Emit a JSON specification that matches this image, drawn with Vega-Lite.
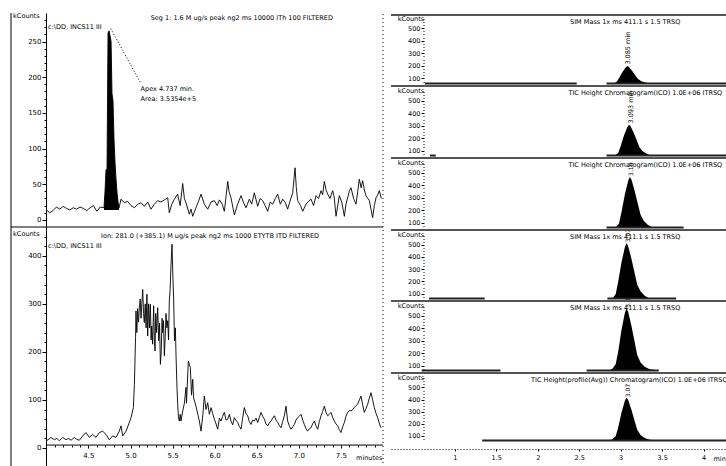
{
"$schema": "https://vega.github.io/schema/vega-lite/v6.json",
"background": "white",
"padding": {"left": 10, "top": 12, "right": 0, "bottom": 0},
"config": {
  "view": {"stroke": null},
  "axis": {"grid": false, "labelFont": "DejaVu Sans", "labelFontSize": 7, "labelColor": "#000", "domainColor": "#000", "tickColor": "#000", "labelOverlap": false, "labelFlush": false},
  "text": {"font": "DejaVu Sans", "fontSize": 6.5, "color": "#000", "fill": "#000", "align": "left", "baseline": "middle"},
  "line": {"color": "#000", "strokeWidth": 1},
  "area": {"color": "#000"},
  "rule": {"color": "#000"}
},
"datasets": {
  "tl": [
    {"t":4.00,"v":14},{"t":4.04,"v":10},{"t":4.08,"v":13},{"t":4.12,"v":18},{"t":4.16,"v":15},{"t":4.20,"v":19},{"t":4.24,"v":16},{"t":4.28,"v":14},{"t":4.32,"v":17},{"t":4.36,"v":15},{"t":4.40,"v":18},{"t":4.44,"v":16},{"t":4.48,"v":13},{"t":4.52,"v":17},{"t":4.56,"v":20},{"t":4.60,"v":12},{"t":4.64,"v":18},{"t":4.685,"v":17},
    {"t":4.697,"v":40},{"t":4.709,"v":70},{"t":4.721,"v":72},{"t":4.733,"v":262},{"t":4.745,"v":265},{"t":4.757,"v":258},{"t":4.769,"v":250},{"t":4.780,"v":177},{"t":4.792,"v":167},{"t":4.804,"v":113},{"t":4.816,"v":80},{"t":4.828,"v":57},{"t":4.840,"v":38},{"t":4.852,"v":25},{"t":4.864,"v":17},
    {"t":4.887,"v":29},{"t":4.926,"v":24},{"t":4.966,"v":26},{"t":5.006,"v":20},{"t":5.046,"v":17},{"t":5.085,"v":22},{"t":5.125,"v":24},{"t":5.165,"v":19},{"t":5.204,"v":25},{"t":5.244,"v":15},{"t":5.283,"v":22},{"t":5.323,"v":27},{"t":5.362,"v":25},{"t":5.402,"v":28},{"t":5.442,"v":31},{"t":5.461,"v":10},{"t":5.490,"v":22},{"t":5.521,"v":29},{"t":5.560,"v":36},{"t":5.590,"v":20},{"t":5.620,"v":51},{"t":5.640,"v":30},{"t":5.659,"v":24},{"t":5.699,"v":8},{"t":5.719,"v":15},{"t":5.739,"v":5},{"t":5.778,"v":17},{"t":5.808,"v":26},{"t":5.838,"v":36},{"t":5.877,"v":22},{"t":5.917,"v":15},{"t":5.956,"v":25},{"t":5.996,"v":27},{"t":6.030,"v":20},{"t":6.056,"v":28},{"t":6.090,"v":22},{"t":6.115,"v":12},{"t":6.155,"v":54},{"t":6.170,"v":40},{"t":6.194,"v":31},{"t":6.234,"v":7},{"t":6.273,"v":22},{"t":6.313,"v":34},{"t":6.340,"v":25},{"t":6.372,"v":17},{"t":6.412,"v":29},{"t":6.440,"v":22},{"t":6.471,"v":38},{"t":6.511,"v":19},{"t":6.540,"v":30},{"t":6.570,"v":27},{"t":6.600,"v":20},{"t":6.630,"v":12},{"t":6.660,"v":25},{"t":6.689,"v":22},{"t":6.720,"v":30},{"t":6.749,"v":36},{"t":6.780,"v":22},{"t":6.808,"v":29},{"t":6.840,"v":24},{"t":6.867,"v":15},{"t":6.900,"v":28},{"t":6.927,"v":38},{"t":6.955,"v":73},{"t":6.970,"v":45},{"t":6.986,"v":27},{"t":7.020,"v":20},{"t":7.046,"v":12},{"t":7.085,"v":22},{"t":7.115,"v":26},{"t":7.145,"v":29},{"t":7.175,"v":20},{"t":7.204,"v":34},{"t":7.235,"v":30},{"t":7.264,"v":41},{"t":7.283,"v":35},{"t":7.303,"v":54},{"t":7.323,"v":42},{"t":7.343,"v":36},{"t":7.370,"v":30},{"t":7.402,"v":41},{"t":7.420,"v":32},{"t":7.442,"v":5},{"t":7.462,"v":20},{"t":7.481,"v":34},{"t":7.510,"v":25},{"t":7.541,"v":5},{"t":7.560,"v":22},{"t":7.580,"v":31},{"t":7.600,"v":40},{"t":7.620,"v":45},{"t":7.650,"v":30},{"t":7.679,"v":22},{"t":7.700,"v":40},{"t":7.719,"v":57},{"t":7.740,"v":45},{"t":7.758,"v":55},{"t":7.778,"v":42},{"t":7.798,"v":34},{"t":7.838,"v":27},{"t":7.857,"v":15},{"t":7.877,"v":3},{"t":7.897,"v":20},{"t":7.917,"v":31},{"t":7.937,"v":35},{"t":7.957,"v":41},{"t":7.980,"v":30}
  ],
  "tlpeak": [
    {"t":4.685,"v":17},{"t":4.697,"v":40},{"t":4.709,"v":70},{"t":4.721,"v":72},{"t":4.733,"v":262},{"t":4.745,"v":265},{"t":4.757,"v":258},{"t":4.769,"v":250},{"t":4.780,"v":177},{"t":4.792,"v":167},{"t":4.804,"v":113},{"t":4.816,"v":80},{"t":4.828,"v":57},{"t":4.840,"v":38},{"t":4.852,"v":25},{"t":4.864,"v":17}
  ],
  "bl": [
    {"t":4.00,"v":15},{"t":4.03,"v":18},{"t":4.055,"v":22},{"t":4.095,"v":17},{"t":4.125,"v":20},{"t":4.154,"v":15},{"t":4.194,"v":22},{"t":4.234,"v":17},{"t":4.26,"v":20},{"t":4.293,"v":16},{"t":4.333,"v":22},{"t":4.36,"v":18},{"t":4.392,"v":16},{"t":4.432,"v":25},{"t":4.471,"v":32},{"t":4.511,"v":22},{"t":4.550,"v":28},{"t":4.590,"v":22},{"t":4.630,"v":32},{"t":4.669,"v":35},{"t":4.709,"v":28},{"t":4.748,"v":17},{"t":4.788,"v":25},{"t":4.828,"v":22},{"t":4.867,"v":35},{"t":4.887,"v":46},{"t":4.907,"v":25},{"t":4.947,"v":35},{"t":4.986,"v":53},{"t":5.006,"v":63},{"t":5.034,"v":84},
    {"t":5.046,"v":132},{"t":5.053,"v":181},{"t":5.060,"v":230},{"t":5.065,"v":285},{"t":5.075,"v":240},{"t":5.085,"v":290},{"t":5.095,"v":262},{"t":5.105,"v":292},{"t":5.115,"v":310},{"t":5.125,"v":270},{"t":5.135,"v":300},{"t":5.145,"v":330},{"t":5.155,"v":280},{"t":5.164,"v":261},{"t":5.175,"v":300},{"t":5.185,"v":250},{"t":5.195,"v":320},{"t":5.204,"v":233},{"t":5.215,"v":300},{"t":5.225,"v":250},{"t":5.236,"v":299},{"t":5.245,"v":225},{"t":5.252,"v":254},{"t":5.263,"v":216},{"t":5.275,"v":296},{"t":5.283,"v":230},{"t":5.291,"v":202},{"t":5.300,"v":280},{"t":5.310,"v":240},{"t":5.323,"v":292},{"t":5.335,"v":223},{"t":5.345,"v":260},{"t":5.355,"v":174},{"t":5.365,"v":200},{"t":5.375,"v":270},{"t":5.382,"v":240},{"t":5.392,"v":265},{"t":5.402,"v":192},{"t":5.412,"v":230},{"t":5.422,"v":280},{"t":5.432,"v":250},{"t":5.442,"v":265},{"t":5.452,"v":225},{"t":5.461,"v":306},{"t":5.471,"v":330},{"t":5.481,"v":380},{"t":5.493,"v":424},{"t":5.503,"v":360},{"t":5.513,"v":306},{"t":5.523,"v":223},{"t":5.533,"v":250},{"t":5.541,"v":192},{"t":5.552,"v":126},{"t":5.560,"v":93},{"t":5.570,"v":63},{"t":5.580,"v":56},{"t":5.590,"v":70},{"t":5.600,"v":56},{"t":5.620,"v":77},{"t":5.640,"v":93},{"t":5.659,"v":126},{"t":5.665,"v":93},{"t":5.687,"v":181},{"t":5.711,"v":167},{"t":5.725,"v":110},{"t":5.739,"v":143},{"t":5.750,"v":104},{"t":5.778,"v":87},{"t":5.800,"v":70},{"t":5.818,"v":56},{"t":5.838,"v":35},{"t":5.860,"v":70},
    {"t":5.877,"v":108},{"t":5.897,"v":80},{"t":5.917,"v":94},{"t":5.937,"v":70},{"t":5.957,"v":84},{"t":5.976,"v":72},{"t":5.996,"v":60},{"t":6.016,"v":50},{"t":6.036,"v":39},{"t":6.056,"v":62},{"t":6.075,"v":56},{"t":6.095,"v":66},{"t":6.115,"v":74},{"t":6.135,"v":58},{"t":6.155,"v":60},{"t":6.175,"v":70},{"t":6.194,"v":56},{"t":6.214,"v":48},{"t":6.234,"v":63},{"t":6.253,"v":58},{"t":6.273,"v":53},{"t":6.293,"v":45},{"t":6.313,"v":39},{"t":6.332,"v":62},{"t":6.352,"v":84},{"t":6.372,"v":72},{"t":6.392,"v":67},{"t":6.412,"v":55},{"t":6.432,"v":49},{"t":6.451,"v":58},{"t":6.471,"v":56},{"t":6.491,"v":62},{"t":6.511,"v":53},{"t":6.531,"v":64},{"t":6.551,"v":74},{"t":6.570,"v":66},{"t":6.590,"v":60},{"t":6.610,"v":50},{"t":6.630,"v":46},{"t":6.650,"v":52},{"t":6.669,"v":56},{"t":6.689,"v":62},{"t":6.709,"v":67},{"t":6.729,"v":58},{"t":6.749,"v":53},{"t":6.768,"v":47},{"t":6.788,"v":42},{"t":6.808,"v":55},{"t":6.828,"v":67},{"t":6.848,"v":87},{"t":6.867,"v":56},{"t":6.887,"v":46},{"t":6.907,"v":39},{"t":6.927,"v":44},{"t":6.947,"v":49},{"t":6.966,"v":58},{"t":6.986,"v":63},{"t":7.006,"v":66},{"t":7.026,"v":70},{"t":7.046,"v":58},{"t":7.065,"v":49},{"t":7.085,"v":40},{"t":7.105,"v":35},{"t":7.125,"v":40},{"t":7.145,"v":42},{"t":7.164,"v":50},{"t":7.184,"v":56},{"t":7.204,"v":46},{"t":7.224,"v":39},{"t":7.244,"v":55},{"t":7.264,"v":67},{"t":7.283,"v":76},{"t":7.303,"v":87},{"t":7.323,"v":74},{"t":7.343,"v":67},{"t":7.362,"v":70},{"t":7.382,"v":74},{"t":7.402,"v":64},{"t":7.422,"v":56},{"t":7.441,"v":50},{"t":7.461,"v":46},{"t":7.481,"v":38},{"t":7.501,"v":32},{"t":7.521,"v":44},{"t":7.541,"v":53},{"t":7.560,"v":66},{"t":7.580,"v":74},{"t":7.600,"v":78},{"t":7.620,"v":77},{"t":7.640,"v":80},{"t":7.660,"v":84},{"t":7.679,"v":88},{"t":7.699,"v":91},{"t":7.719,"v":100},{"t":7.739,"v":108},{"t":7.758,"v":90},{"t":7.778,"v":74},{"t":7.798,"v":82},{"t":7.818,"v":91},{"t":7.838,"v":104},{"t":7.858,"v":115},{"t":7.877,"v":100},{"t":7.897,"v":84},{"t":7.917,"v":72},{"t":7.937,"v":63},{"t":7.955,"v":52},{"t":7.975,"v":42}
  ],
  "tlann": [
    {"t":3.605,"v":286,"label":"kCounts"},
    {"t":5.24,"v":283,"label":"Seg 1:  1.6 M ug/s peak ng2  ms  10000  ITh 100  FILTERED"},
    {"t":4.02,"v":271,"label":"c:\\DD, INCS11    III"},
    {"t":5.12,"v":184,"label":"Apex 4.737 min."},
    {"t":5.12,"v":170,"label":"Area: 3.5354e+5"}
  ],
  "tlframe": [{"t":3.58,"v":-10,"v2":290}],
  "tldot": [{"t":8.0,"v":-10,"v2":290}],
  "tllead": [{"t":4.765,"v":268,"t2":5.12,"v2":192}],
  "blann": [
    {"t":3.605,"v":445,"label":"kCounts"},
    {"t":4.65,"v":441,"label":"Ion: 281.0 (+385.1) M ug/s peak ng2  ms  1000  ETYTB ITD  FILTERED"},
    {"t":4.02,"v":420,"label":"c:\\DD, INCS11    III"},
    {"t":7.68,"v":-21,"label":"minutes"}
  ],
  "blframe": [{"t":3.58,"v":-48,"v2":460}],
  "bldot": [{"t":8.0,"v":-48,"v2":460}],
  "blhline": [{"t":3.58,"t2":8.0,"v":460},{"t":4.0,"t2":8.0,"v":6}],
  "r1peak": [{"t":2.91,"v":60},{"t":2.95,"v":71},{"t":2.98,"v":101},{"t":3.02,"v":150},{"t":3.06,"v":187},{"t":3.08,"v":198},{"t":3.10,"v":191},{"t":3.14,"v":159},{"t":3.18,"v":122},{"t":3.21,"v":95},{"t":3.25,"v":78},{"t":3.30,"v":67},{"t":3.35,"v":60}],
  "r1base": [{"s":"a","t":0.64,"v":60},{"s":"a","t":2.47,"v":60},{"s":"b","t":2.83,"v":60},{"s":"b","t":4.5,"v":60}],
  "r2peak": [{"t":2.93,"v":60},{"t":2.97,"v":80},{"t":3.00,"v":134},{"t":3.04,"v":221},{"t":3.08,"v":288},{"t":3.10,"v":308},{"t":3.12,"v":296},{"t":3.16,"v":239},{"t":3.20,"v":172},{"t":3.23,"v":122},{"t":3.27,"v":92},{"t":3.32,"v":72},{"t":3.37,"v":60}],
  "r2base": [{"s":"a","t":0.70,"v":60},{"s":"a","t":0.77,"v":60},{"s":"b","t":2.83,"v":60},{"s":"b","t":4.5,"v":60}],
  "r3peak": [{"t":2.94,"v":60},{"t":2.98,"v":92},{"t":3.01,"v":182},{"t":3.05,"v":324},{"t":3.09,"v":434},{"t":3.11,"v":466},{"t":3.13,"v":446},{"t":3.17,"v":352},{"t":3.21,"v":243},{"t":3.24,"v":162},{"t":3.28,"v":113},{"t":3.33,"v":80},{"t":3.38,"v":62},{"t":3.44,"v":60}],
  "r3base": [{"s":"a","t":2.83,"v":60},{"s":"a","t":3.76,"v":60}],
  "r4peak": [{"t":2.90,"v":60},{"t":2.94,"v":96},{"t":2.97,"v":196},{"t":3.01,"v":354},{"t":3.05,"v":477},{"t":3.07,"v":513},{"t":3.09,"v":490},{"t":3.13,"v":386},{"t":3.17,"v":264},{"t":3.20,"v":173},{"t":3.24,"v":119},{"t":3.29,"v":83},{"t":3.34,"v":63},{"t":3.40,"v":60}],
  "r4base": [{"s":"a","t":0.69,"v":60},{"s":"a","t":1.36,"v":60},{"s":"b","t":2.84,"v":60},{"s":"b","t":3.67,"v":60}],
  "r5peak": [{"t":2.86,"v":60},{"t":2.90,"v":75},{"t":2.94,"v":110},{"t":2.97,"v":210},{"t":3.01,"v":386},{"t":3.05,"v":521},{"t":3.07,"v":561},{"t":3.09,"v":536},{"t":3.13,"v":421},{"t":3.17,"v":285},{"t":3.20,"v":185},{"t":3.24,"v":125},{"t":3.29,"v":90},{"t":3.35,"v":70},{"t":3.46,"v":60}],
  "r5base": [{"s":"a","t":0.60,"v":60},{"s":"a","t":1.55,"v":60},{"s":"b","t":2.59,"v":60},{"s":"b","t":3.46,"v":60}],
  "r6peak": [{"t":2.86,"v":60},{"t":2.90,"v":71},{"t":2.94,"v":96},{"t":2.97,"v":167},{"t":3.01,"v":291},{"t":3.05,"v":388},{"t":3.07,"v":416},{"t":3.09,"v":398},{"t":3.13,"v":316},{"t":3.17,"v":220},{"t":3.20,"v":149},{"t":3.24,"v":106},{"t":3.29,"v":81},{"t":3.35,"v":67},{"t":3.46,"v":60}],
  "r6base": [{"s":"a","t":1.33,"v":60},{"s":"a","t":4.5,"v":60}],
  "r1ann": [{"t":0.31,"v":570,"label":"kCounts"},{"t":2.39,"v":550,"label":"SIM Mass 1x  ms  411.1  s  1.5  TRSQ"}],
  "r2ann": [{"t":0.31,"v":580,"label":"kCounts"},{"t":2.37,"v":560,"label":"TIC Height Chromatogram(ICO) 1.0E+06 ITRSQ"}],
  "r3ann": [{"t":0.31,"v":580,"label":"kCounts"},{"t":2.37,"v":560,"label":"TIC Height Chromatogram(ICO) 1.0E+06 ITRSQ"}],
  "r4ann": [{"t":0.31,"v":580,"label":"kCounts"},{"t":2.39,"v":560,"label":"SIM Mass 1x  ms  411.1  s  1.5  TRSQ"}],
  "r5ann": [{"t":0.31,"v":580,"label":"kCounts"},{"t":2.39,"v":560,"label":"SIM Mass 1x  ms  411.1  s  1.5  TRSQ"}],
  "r6ann": [{"t":0.31,"v":580,"label":"kCounts"},{"t":1.92,"v":560,"label":"TIC Height(profile(Avg)) Chromatogram(ICO) 1.0E+06 ITRSQ"},{"t":4.12,"v":-96,"label":"min"}],
  "r1rt": [{"t":3.09,"v":210,"label":"3.085 min"}],
  "r2rt": [{"t":3.12,"v":318,"label":"3.093 min"}],
  "r3rt": [{"t":3.13,"v":476,"label":"3.10"}],
  "r4rt": [{"t":3.09,"v":520,"label":"3.07"}],
  "r5rt": [{"t":3.09,"v":566,"label":"3.07"}],
  "r6rt": [{"t":3.09,"v":420,"label":"3.07"}],
  "r1top": [{"t":0.23,"t2":4.5,"v":604}],
  "rtop": [{"t":0.23,"t2":4.5,"v":620}]
},
"spacing": 6,
"resolve": {"scale": {"x": "independent", "y": "independent"}},
"hconcat": [
 {
  "spacing": 0, "bounds": "flush",
  "resolve": {"scale": {"x": "independent", "y": "independent"}},
  "vconcat": [
   {
    "width": 372, "height": 214,
    "encoding": {
      "x": {"field": "t", "type": "quantitative", "scale": {"domain": [3.58, 8.0], "nice": false, "zero": false}, "axis": null},
      "y": {"field": "v", "type": "quantitative", "scale": {"domain": [-10, 290], "nice": false, "zero": false},
            "axis": {"title": null, "offset": -35, "values": [0,10,20,30,40,50,60,70,80,90,100,110,120,130,140,150,160,170,180,190,200,210,220,230,240,250,260,270,280],
                     "labelExpr": "datum.value % 50 === 0 ? datum.label : ''",
                     "tickSize": {"condition": {"test": "datum.value % 50 === 0", "value": 4}, "value": 2}, "labelPadding": 1}}
    },
    "layer": [
      {"data": {"name": "tlpeak"}, "mark": {"type": "area", "color": "#000"}, "encoding": {"y2": {"datum": 14}}},
      {"data": {"name": "tl"}, "mark": {"type": "line", "strokeWidth": 0.9, "color": "#000"}},
      {"data": {"name": "tlann"}, "mark": {"type": "text"}, "encoding": {"text": {"field": "label"}}},
      {"data": {"name": "tlframe"}, "mark": {"type": "rule", "strokeWidth": 1}, "encoding": {"y2": {"field": "v2"}}},
      {"data": {"name": "tldot"}, "mark": {"type": "rule", "strokeWidth": 1, "strokeDash": [1, 3]}, "encoding": {"y2": {"field": "v2"}}},
      {"data": {"name": "tllead"}, "mark": {"type": "rule", "strokeWidth": 1, "strokeDash": [1, 2]}, "encoding": {"x2": {"field": "t2"}, "y2": {"field": "v2"}}}
    ]
   },
   {
    "width": 372, "height": 244,
    "encoding": {
      "x": {"field": "t", "type": "quantitative", "scale": {"domain": [3.58, 8.0], "nice": false, "zero": false},
            "axis": {"title": null, "offset": -26, "domain": false,
                     "values": [4.0,4.1,4.2,4.3,4.4,4.5,4.6,4.7,4.8,4.9,5.0,5.1,5.2,5.3,5.4,5.5,5.6,5.7,5.8,5.9,6.0,6.1,6.2,6.3,6.4,6.5,6.6,6.7,6.8,6.9,7.0,7.1,7.2,7.3,7.4,7.5,7.6,7.7,7.8,7.9],
                     "labelExpr": "(round(datum.value*10) % 5 === 0 && datum.value > 4.2) ? format(datum.value, '.1f') : ''",
                     "tickSize": {"condition": {"test": "round(datum.value*10) % 5 === 0", "value": 3}, "value": 2}, "labelPadding": 3}},
      "y": {"field": "v", "type": "quantitative", "scale": {"domain": [-48, 460], "nice": false, "zero": false},
            "axis": {"title": null, "offset": -35, "values": [0,20,40,60,80,100,120,140,160,180,200,220,240,260,280,300,320,340,360,380,400,420,440],
                     "labelExpr": "datum.value % 100 === 0 ? datum.label : ''",
                     "tickSize": {"condition": {"test": "datum.value % 100 === 0", "value": 4}, "value": 2}, "labelPadding": 1}}
    },
    "layer": [
      {"data": {"name": "bl"}, "mark": {"type": "line", "strokeWidth": 0.9, "color": "#000"}},
      {"data": {"name": "blann"}, "mark": {"type": "text"}, "encoding": {"text": {"field": "label"}}},
      {"data": {"name": "blframe"}, "mark": {"type": "rule", "strokeWidth": 1}, "encoding": {"y2": {"field": "v2"}}},
      {"data": {"name": "bldot"}, "mark": {"type": "rule", "strokeWidth": 1, "strokeDash": [1, 3]}, "encoding": {"y2": {"field": "v2"}}},
      {"data": {"name": "blhline"}, "mark": {"type": "rule", "strokeWidth": 1}, "encoding": {"x2": {"field": "t2"}}}
    ]
   }
  ]
 },
 {
  "spacing": 0, "bounds": "flush",
  "resolve": {"scale": {"x": "independent", "y": "independent"}},
  "vconcat": [
   {
    "width": 354, "height": 73,
    "encoding": {
      "x": {"field": "t", "type": "quantitative", "scale": {"domain": [0.23, 4.5], "nice": false, "zero": false}, "axis": null},
      "y": {"field": "v", "type": "quantitative", "scale": {"domain": [40, 620], "nice": false, "zero": false},
            "axis": {"title": null, "offset": -33, "domain": false, "values": [75,100,125,150,175,200,225,250,275,300,325,350,375,400,425,450,475,500,525,550,575],
                     "labelExpr": "datum.value % 100 === 0 ? datum.label : ''",
                     "tickSize": {"condition": {"test": "datum.value % 100 === 0", "value": 3}, "value": 1}, "labelPadding": 1, "labelFontSize": 6.5}}
    },
    "layer": [
      {"data": {"name": "r1peak"}, "mark": {"type": "area", "color": "#000"}, "encoding": {"y2": {"datum": 60}}},
      {"data": {"name": "r1base"}, "mark": {"type": "line", "strokeWidth": 2, "color": "#222"}, "encoding": {"detail": {"field": "s"}}},
      {"data": {"name": "r1ann"}, "mark": {"type": "text"}, "encoding": {"text": {"field": "label"}}},
      {"data": {"name": "r1rt"}, "mark": {"type": "text", "angle": 270}, "encoding": {"text": {"field": "label"}}},
      {"data": {"name": "r1top"}, "mark": {"type": "rule", "strokeWidth": 2, "color": "#555"}, "encoding": {"x2": {"field": "t2"}}}
    ]
   },
   {
    "width": 354, "height": 72,
    "encoding": {
      "x": {"field": "t", "type": "quantitative", "scale": {"domain": [0.23, 4.5], "nice": false, "zero": false}, "axis": null},
      "y": {"field": "v", "type": "quantitative", "scale": {"domain": [40, 620], "nice": false, "zero": false},
            "axis": {"title": null, "offset": -33, "domain": false, "values": [75,100,125,150,175,200,225,250,275,300,325,350,375,400,425,450,475,500,525,550,575],
                     "labelExpr": "datum.value % 100 === 0 ? datum.label : ''",
                     "tickSize": {"condition": {"test": "datum.value % 100 === 0", "value": 3}, "value": 1}, "labelPadding": 1, "labelFontSize": 6.5}}
    },
    "layer": [
      {"data": {"name": "r2peak"}, "mark": {"type": "area", "color": "#000"}, "encoding": {"y2": {"datum": 60}}},
      {"data": {"name": "r2base"}, "mark": {"type": "line", "strokeWidth": 2, "color": "#222"}, "encoding": {"detail": {"field": "s"}}},
      {"data": {"name": "r2ann"}, "mark": {"type": "text"}, "encoding": {"text": {"field": "label"}}},
      {"data": {"name": "r2rt"}, "mark": {"type": "text", "angle": 270}, "encoding": {"text": {"field": "label"}}},
      {"data": {"name": "rtop"}, "mark": {"type": "rule", "strokeWidth": 2, "color": "#555"}, "encoding": {"x2": {"field": "t2"}}}
    ]
   },
   {
    "width": 354, "height": 72,
    "encoding": {
      "x": {"field": "t", "type": "quantitative", "scale": {"domain": [0.23, 4.5], "nice": false, "zero": false}, "axis": null},
      "y": {"field": "v", "type": "quantitative", "scale": {"domain": [40, 620], "nice": false, "zero": false},
            "axis": {"title": null, "offset": -33, "domain": false, "values": [75,100,125,150,175,200,225,250,275,300,325,350,375,400,425,450,475,500,525,550,575],
                     "labelExpr": "datum.value % 100 === 0 ? datum.label : ''",
                     "tickSize": {"condition": {"test": "datum.value % 100 === 0", "value": 3}, "value": 1}, "labelPadding": 1, "labelFontSize": 6.5}}
    },
    "layer": [
      {"data": {"name": "r3peak"}, "mark": {"type": "area", "color": "#000"}, "encoding": {"y2": {"datum": 60}}},
      {"data": {"name": "r3base"}, "mark": {"type": "line", "strokeWidth": 2, "color": "#222"}, "encoding": {"detail": {"field": "s"}}},
      {"data": {"name": "r3ann"}, "mark": {"type": "text"}, "encoding": {"text": {"field": "label"}}},
      {"data": {"name": "r3rt"}, "mark": {"type": "text", "angle": 270, "fontSize": 6}, "encoding": {"text": {"field": "label"}}},
      {"data": {"name": "rtop"}, "mark": {"type": "rule", "strokeWidth": 2, "color": "#555"}, "encoding": {"x2": {"field": "t2"}}}
    ]
   },
   {
    "width": 354, "height": 71,
    "encoding": {
      "x": {"field": "t", "type": "quantitative", "scale": {"domain": [0.23, 4.5], "nice": false, "zero": false}, "axis": null},
      "y": {"field": "v", "type": "quantitative", "scale": {"domain": [40, 620], "nice": false, "zero": false},
            "axis": {"title": null, "offset": -33, "domain": false, "values": [75,100,125,150,175,200,225,250,275,300,325,350,375,400,425,450,475,500,525,550,575],
                     "labelExpr": "datum.value % 100 === 0 ? datum.label : ''",
                     "tickSize": {"condition": {"test": "datum.value % 100 === 0", "value": 3}, "value": 1}, "labelPadding": 1, "labelFontSize": 6.5}}
    },
    "layer": [
      {"data": {"name": "r4peak"}, "mark": {"type": "area", "color": "#000"}, "encoding": {"y2": {"datum": 60}}},
      {"data": {"name": "r4base"}, "mark": {"type": "line", "strokeWidth": 2, "color": "#222"}, "encoding": {"detail": {"field": "s"}}},
      {"data": {"name": "r4ann"}, "mark": {"type": "text"}, "encoding": {"text": {"field": "label"}}},
      {"data": {"name": "r4rt"}, "mark": {"type": "text", "angle": 270, "fontSize": 6}, "encoding": {"text": {"field": "label"}}},
      {"data": {"name": "rtop"}, "mark": {"type": "rule", "strokeWidth": 2, "color": "#555"}, "encoding": {"x2": {"field": "t2"}}}
    ]
   },
   {
    "width": 354, "height": 72,
    "encoding": {
      "x": {"field": "t", "type": "quantitative", "scale": {"domain": [0.23, 4.5], "nice": false, "zero": false}, "axis": null},
      "y": {"field": "v", "type": "quantitative", "scale": {"domain": [40, 620], "nice": false, "zero": false},
            "axis": {"title": null, "offset": -33, "domain": false, "values": [75,100,125,150,175,200,225,250,275,300,325,350,375,400,425,450,475,500,525,550,575],
                     "labelExpr": "datum.value % 100 === 0 ? datum.label : ''",
                     "tickSize": {"condition": {"test": "datum.value % 100 === 0", "value": 3}, "value": 1}, "labelPadding": 1, "labelFontSize": 6.5}}
    },
    "layer": [
      {"data": {"name": "r5peak"}, "mark": {"type": "area", "color": "#000"}, "encoding": {"y2": {"datum": 60}}},
      {"data": {"name": "r5base"}, "mark": {"type": "line", "strokeWidth": 2, "color": "#222"}, "encoding": {"detail": {"field": "s"}}},
      {"data": {"name": "r5ann"}, "mark": {"type": "text"}, "encoding": {"text": {"field": "label"}}},
      {"data": {"name": "r5rt"}, "mark": {"type": "text", "angle": 270, "fontSize": 6}, "encoding": {"text": {"field": "label"}}},
      {"data": {"name": "rtop"}, "mark": {"type": "rule", "strokeWidth": 2, "color": "#555"}, "encoding": {"x2": {"field": "t2"}}}
    ]
   },
   {
    "width": 354, "height": 70,
    "encoding": {
      "x": {"field": "t", "type": "quantitative", "scale": {"domain": [0.23, 4.5], "nice": false, "zero": false},
            "axis": {"title": null, "offset": 6, "values": [1, 1.5, 2, 2.5, 3, 3.5, 4], "format": "~g", "domainDash": [1, 2], "domainColor": "#000", "tickSize": 2, "labelPadding": 3, "labelFontSize": 6.5}},
      "y": {"field": "v", "type": "quantitative", "scale": {"domain": [40, 620], "nice": false, "zero": false},
            "axis": {"title": null, "offset": -33, "domain": false, "values": [75,100,125,150,175,200,225,250,275,300,325,350,375,400,425,450,475,500,525,550,575],
                     "labelExpr": "datum.value % 100 === 0 ? datum.label : ''",
                     "tickSize": {"condition": {"test": "datum.value % 100 === 0", "value": 3}, "value": 1}, "labelPadding": 1, "labelFontSize": 6.5}}
    },
    "layer": [
      {"data": {"name": "r6peak"}, "mark": {"type": "area", "color": "#000"}, "encoding": {"y2": {"datum": 60}}},
      {"data": {"name": "r6base"}, "mark": {"type": "line", "strokeWidth": 2, "color": "#222"}, "encoding": {"detail": {"field": "s"}}},
      {"data": {"name": "r6ann"}, "mark": {"type": "text"}, "encoding": {"text": {"field": "label"}}},
      {"data": {"name": "r6rt"}, "mark": {"type": "text", "angle": 270, "fontSize": 6}, "encoding": {"text": {"field": "label"}}},
      {"data": {"name": "rtop"}, "mark": {"type": "rule", "strokeWidth": 2, "color": "#555"}, "encoding": {"x2": {"field": "t2"}}}
    ]
   }
  ]
 }
]
}
